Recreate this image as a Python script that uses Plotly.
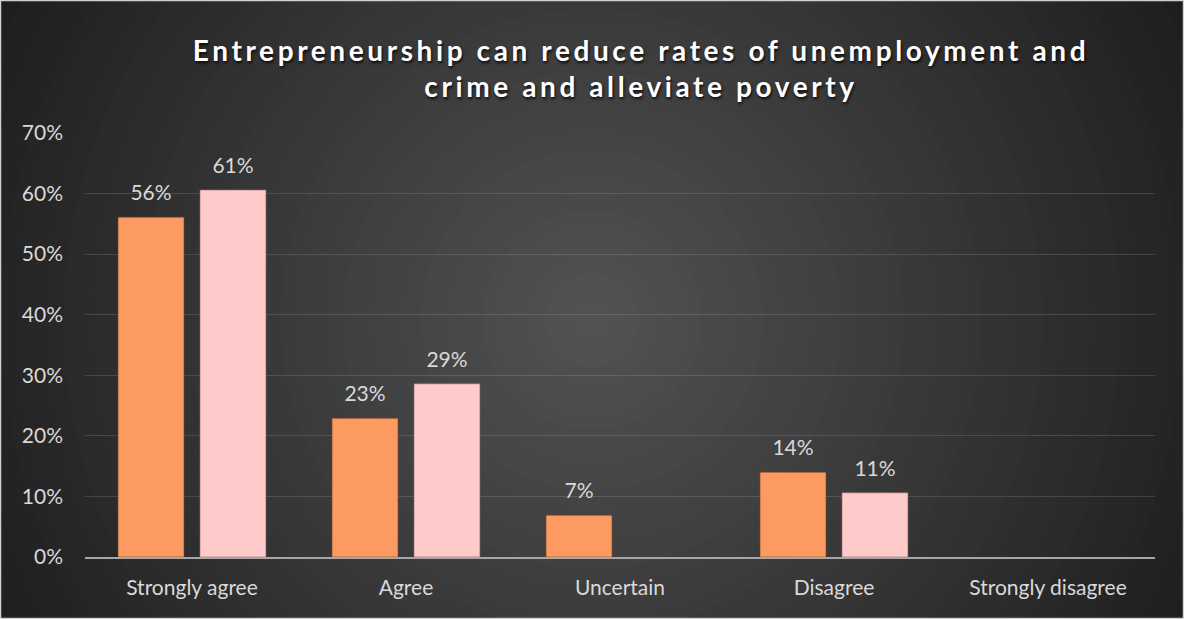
import plotly.graph_objects as go

categories = ["Strongly agree", "Agree", "Uncertain", "Disagree", "Strongly disagree"]
series_a = [0.561, 0.229, 0.069, 0.140, None]
series_b = [0.606, 0.286, None, 0.106, None]
y_ticks = [0, 0.1, 0.2, 0.3, 0.4, 0.5, 0.6, 0.7]
y_tick_labels = ["0%", "10%", "20%", "30%", "40%", "50%", "60%", "70%"]
title_text = "Entrepreneurship can reduce rates of unemployment and<br>crime and alleviate poverty"

W, H = 1184, 619
ML, MR, MT, MB = 85, 29, 133, 62
PW, PH = W - ML - MR, H - MT - MB
BARGAP = 0.234

def px_to_paper_x(x):
    return (x - ML) / PW

def px_to_paper_y(y):
    return (H - MB - y) / PH

fig = go.Figure()
for name, vals, col, lc in [("A", series_a, "#FD9A62", "rgba(120,70,40,0.6)"),
                            ("B", series_b, "#FFCACA", "rgba(140,100,100,0.6)")]:
    fig.add_trace(go.Bar(
        x=categories, y=vals, name=name, offsetgroup=name,
        marker=dict(color=col, line=dict(color=lc, width=1)),
        hoverinfo="skip",
    ))
for name, vals in [("A", series_a), ("B", series_b)]:
    fig.add_trace(go.Scatter(
        x=categories, y=vals, name=name + " labels", offsetgroup=name,
        mode="markers+text", text=[None if v is None else "%d%%" % round(v * 100) for v in vals],
        textposition="top center",
        marker=dict(size=17, color="rgba(0,0,0,0)", line=dict(width=0)),
        textfont=dict(color="#D9D9D9", size=21, family="Lato"),
        cliponaxis=False, hoverinfo="skip",
    ))

# radial gradient background built from concentric circles
shapes = []
cx, cy = 592, 320
R = 700
N = 45
edge = (28, 28, 28)
center = (82, 82, 82)
for i in range(N):
    r = R * (1 - i / N)
    t = i / (N - 1)
    col = tuple(int(round(edge[k] + (center[k] - edge[k]) * t)) for k in range(3))
    shapes.append(dict(
        type="circle", xref="paper", yref="paper", layer="below",
        x0=px_to_paper_x(cx - r), x1=px_to_paper_x(cx + r),
        y0=px_to_paper_y(cy + r), y1=px_to_paper_y(cy - r),
        fillcolor="rgb(%d,%d,%d)" % col, line=dict(width=0),
    ))
shapes.append(dict(
    type="rect", xref="paper", yref="paper", layer="above",
    x0=px_to_paper_x(0.5), x1=px_to_paper_x(W - 0.5),
    y0=px_to_paper_y(H - 0.5), y1=px_to_paper_y(0.5),
    line=dict(color="#D0D0D0", width=1.5),
))

fig.update_layout(
    width=W, height=H,
    margin=dict(l=ML, r=MR, t=MT, b=MB),
    paper_bgcolor="#1C1C1C",
    plot_bgcolor="rgba(0,0,0,0)",
    barmode="group",
    bargap=BARGAP,
    bargroupgap=0.195,
    scattermode="group",
    scattergap=BARGAP,
    showlegend=False,
    shapes=shapes,
    title=dict(
        text='<span style="letter-spacing:3.6px">' + title_text + '</span>',
        x=641 / W, xref="container", xanchor="center",
        y=1 - 61 / H, yref="container", yanchor="middle",
        font=dict(family="Lato", size=28, color="#FFFFFF", weight="bold",
                  shadow="1px 2px 3px rgba(0,0,0,0.8)"),
    ),
    font=dict(family="Lato", color="#D9D9D9", size=18),
)
fig.update_xaxes(
    showline=True, linecolor="#A6A6A6", linewidth=2,
    showgrid=False, ticks="", ticklabelstandoff=11,
    tickfont=dict(size=21, color="#D9D9D9", family="Lato"),
)
fig.update_yaxes(
    range=[0, 0.7], tickvals=y_ticks, ticktext=y_tick_labels,
    showgrid=True, gridcolor="rgba(255,255,255,0.13)", gridwidth=1,
    zeroline=False, showline=False, ticks="", ticklabelstandoff=21,
    tickfont=dict(size=21, color="#D9D9D9", family="Lato"),
)

fig.write_html("out.html")
